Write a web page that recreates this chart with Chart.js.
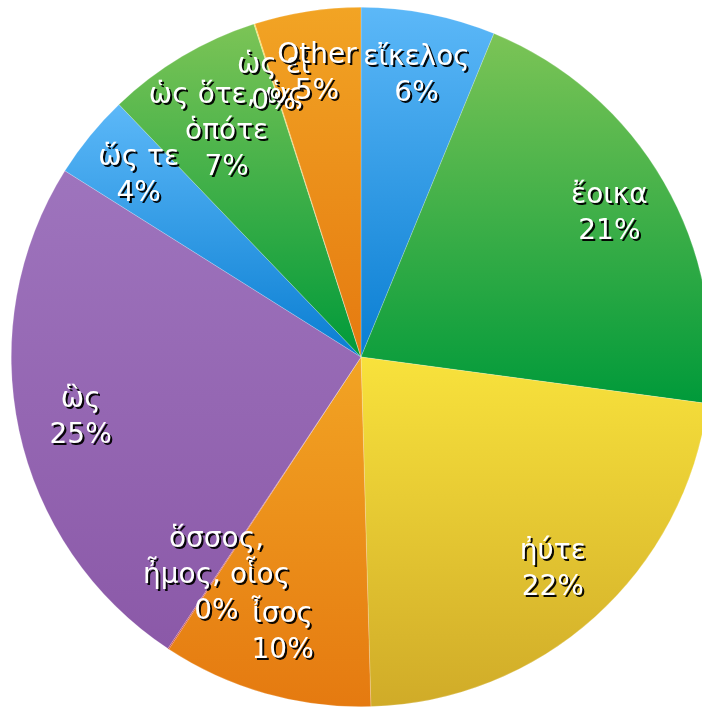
<!DOCTYPE html>
<html>
<head>
<meta charset="utf-8">
<script src="https://cdn.jsdelivr.net/npm/chart.js@4"></script>
<style>
  html, body { margin: 0; padding: 0; background: #fff; overflow: hidden; }
  #wrap { position: absolute; left: 11px; top: 7px; width: 700px; height: 700px; }
</style>
</head>
<body>
<div id="wrap"><canvas id="simileChart"></canvas></div>
<script>
const categories = ["εἴκελος", "ἔοικα", "ἠύτε", "ἶσος", "ὅσσος,\nἦμος, οἷος", "ὣς", "ὥς τε", "ὡς ὅτε, ὡς\nὁπότε", "ὡς εἰ", "Other"];
const shares = [6.2, 20.9, 22.4, 9.7, 0.05, 24.6, 3.9, 7.2, 0.05, 4.9];
const topColors = ["#5cb8f8", "#7cc456", "#f8e23c", "#f2a424", "#e85a4a", "#9e74bd", "#5cb8f8", "#7cc456", "#f8e23c", "#f2a424"];
const bottomColors = ["#0a7ed2", "#009a3a", "#d0ab28", "#e57a10", "#c8302a", "#8b59a8", "#0a7ed2", "#009a3a", "#d0ab28", "#e57a10"];

const total = shares.reduce((a, b) => a + b, 0);

// vertical gradient over each slice's own bounding box
const gradientFill = {
  id: "gradientFill",
  beforeDatasetsDraw(chart) {
    const ctx = chart.ctx;
    chart.getDatasetMeta(0).data.forEach((arc, i) => {
      const { x, y, startAngle, endAngle, outerRadius } = arc;
      let ys = [y, y + Math.sin(startAngle) * outerRadius, y + Math.sin(endAngle) * outerRadius];
      for (let k = -2; k <= 2; k++) {
        const up = -Math.PI / 2 + 2 * Math.PI * k;
        const down = Math.PI / 2 + 2 * Math.PI * k;
        if (up > startAngle && up < endAngle) ys.push(y - outerRadius);
        if (down > startAngle && down < endAngle) ys.push(y + outerRadius);
      }
      const y0 = Math.min(...ys), y1 = Math.max(...ys);
      const g = ctx.createLinearGradient(0, y0, 0, y1 === y0 ? y0 + 1 : y1);
      g.addColorStop(0, topColors[i]);
      g.addColorStop(1, bottomColors[i]);
      arc.options = Object.assign({}, arc.options, { backgroundColor: g });
    });
  }
};

const sliceLabels = {
  id: "sliceLabels",
  afterDatasetsDraw(chart) {
    const ctx = chart.ctx;
    ctx.save();
    ctx.font = '28px "DejaVu Sans", sans-serif';
    ctx.textAlign = "center";
    ctx.textBaseline = "middle";
    ctx.fillStyle = "#fff";
    ctx.shadowColor = "rgba(0,0,0,0.95)";
    ctx.shadowOffsetX = 2;
    ctx.shadowOffsetY = 2;
    ctx.shadowBlur = 0.5;
    chart.getDatasetMeta(0).data.forEach((arc, i) => {
      const lines = categories[i].split("\n");
      lines.push(Math.round(shares[i] / total * 100) + "%");
      // taller labels sit a bit closer to the centre
      const mid = (arc.startAngle + arc.endAngle) / 2;
      const r = arc.outerRadius * (0.82 - (lines.length - 2) * 0.07);
      const cx = arc.x + Math.cos(mid) * r;
      const cy = arc.y + Math.sin(mid) * r;
      const lh = 36;
      const startY = cy - (lines.length - 1) * lh / 2;
      lines.forEach((t, j) => ctx.fillText(t, cx, startY + j * lh));
    });
    ctx.restore();
  }
};

new Chart(document.getElementById("simileChart"), {
  type: "pie",
  data: {
    labels: categories,
    datasets: [{
      data: shares,
      backgroundColor: bottomColors,
      borderColor: "rgba(255,255,255,0.4)",
      borderWidth: 0.5
    }]
  },
  options: {
    responsive: true,
    maintainAspectRatio: false,
    animation: false,
    layout: { padding: 0 },
    plugins: {
      legend: { display: false },
      tooltip: { enabled: false }
    }
  },
  plugins: [gradientFill, sliceLabels]
});
</script>
</body>
</html>
